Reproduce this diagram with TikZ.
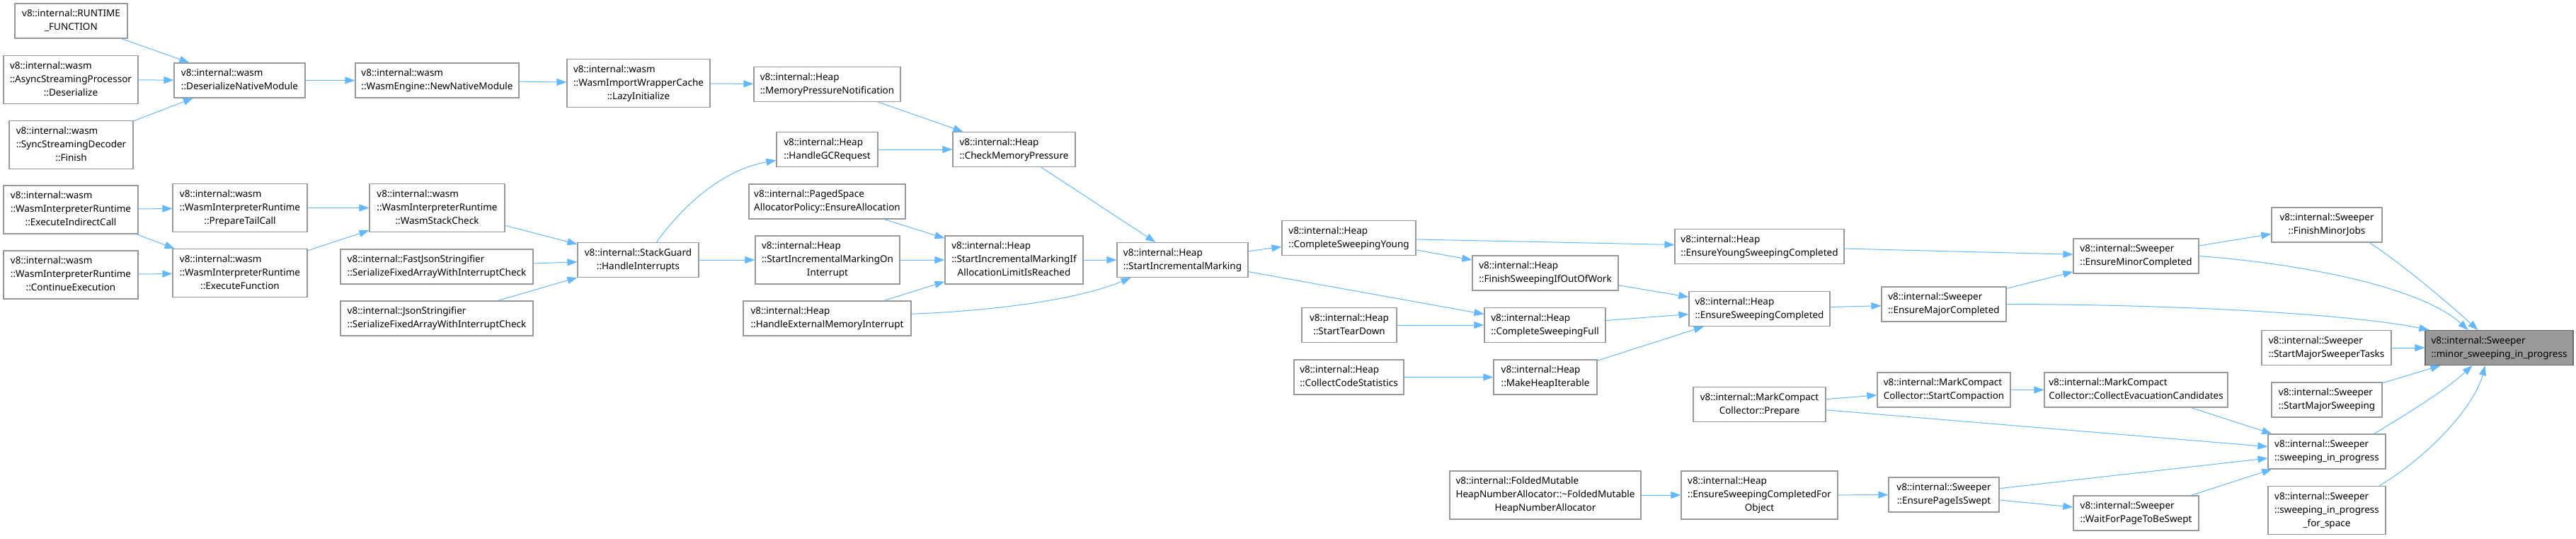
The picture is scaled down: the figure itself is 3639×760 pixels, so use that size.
\documentclass[tikz,border=0pt]{standalone}
\usepackage{fontspec}
\setmainfont{Noto Sans}
\usepackage{xcolor}
\definecolor{edgeBlue}{HTML}{63B8FF}
\definecolor{boxLine}{HTML}{999999}
\definecolor{focusFill}{HTML}{999999}
\definecolor{focusLine}{HTML}{666666}
\usetikzlibrary{arrows.meta}
\newcommand{\fnfont}{\fontsize{13.5}{19}\selectfont}
% all lines but the last flush left, the last one centred
\newcommand{\fnlabel}[2]{\begin{tabular}{@{}l@{}}#1\\\multicolumn{1}{@{}c@{}}{#2}\end{tabular}}
\tikzset{
	fnbox/.style={draw=boxLine, line width=1.2pt, fill=white, inner xsep=0pt,
		inner ysep=5.5pt, minimum width=#1, font=\fnfont},
	callarr/.style={draw=edgeBlue, line width=1pt, -{Triangle[length=14pt, width=10pt]}},
}

\begin{document}
\begin{tikzpicture}[x=1pt, y=-1pt]
	\useasboundingbox (0,0) rectangle (3639,760);

	% wasm side
	\node[fnbox=159] (rtFunc) at (100.5,29.5) {\fnlabel{v8::internal::RUNTIME}{\_FUNCTION}};
	\node[fnbox=190] (asyncDeser) at (100,112.5) {\fnlabel{v8::internal::wasm\\::AsyncStreamingProcessor}{::Deserialize}};
	\node[fnbox=175] (syncFinish) at (100.5,204.5) {\fnlabel{v8::internal::wasm\\::SyncStreamingDecoder}{::Finish}};
	\node[fnbox=185] (deserMod) at (338.5,113.5) {\fnlabel{v8::internal::wasm}{::DeserializeNativeModule}};
	\node[fnbox=231] (newMod) at (617.5,113.5) {\fnlabel{v8::internal::wasm}{::WasmEngine::NewNativeModule}};
	\node[fnbox=190] (execIndirect) at (100,296) {\fnlabel{v8::internal::wasm\\::WasmInterpreterRuntime}{::ExecuteIndirectCall}};
	\node[fnbox=190] (prepTail) at (339,293.5) {\fnlabel{v8::internal::wasm\\::WasmInterpreterRuntime}{::PrepareTailCall}};
	\node[fnbox=191] (stackCheck) at (617.5,293.5) {\fnlabel{v8::internal::wasm\\::WasmInterpreterRuntime}{::WasmStackCheck}};
	\node[fnbox=190] (contExec) at (100,388) {\fnlabel{v8::internal::wasm\\::WasmInterpreterRuntime}{::ContinueExecution}};
	\node[fnbox=190] (execFunc) at (339,385.5) {\fnlabel{v8::internal::wasm\\::WasmInterpreterRuntime}{::ExecuteFunction}};
	\node[fnbox=272] (fastJson) at (617,376.5) {\fnlabel{v8::internal::FastJsonStringifier}{::SerializeFixedArrayWithInterruptCheck}};
	\node[fnbox=272] (jsonStr) at (617,449.5) {\fnlabel{v8::internal::JsonStringifier}{::SerializeFixedArrayWithInterruptCheck}};
	\node[fnbox=202] (lazyInit) at (902,117.5) {\fnlabel{v8::internal::wasm\\::WasmImportWrapperCache}{::LazyInitialize}};

	% heap side
	\node[fnbox=207] (memNotify) at (1168.5,119) {\fnlabel{v8::internal::Heap}{::MemoryPressureNotification}};
	\node[fnbox=143] (gcRequest) at (1168.5,211) {\fnlabel{v8::internal::Heap}{::HandleGCRequest}};
	\node[fnbox=221] (pagedAlloc) at (1168.5,284.5) {\fnlabel{v8::internal::PagedSpace}{AllocatorPolicy::EnsureAllocation}};
	\node[fnbox=171] (handleInt) at (901.5,367) {\fnlabel{v8::internal::StackGuard}{::HandleInterrupts}};
	\node[fnbox=204] (incOnInt) at (1169,367) {\fnlabel{v8::internal::Heap\\::StartIncrementalMarkingOn}{Interrupt}};
	\node[fnbox=237] (extMemInt) at (1168.5,449.5) {\fnlabel{v8::internal::Heap}{::HandleExternalMemoryInterrupt}};
	\node[fnbox=173] (checkMem) at (1432.5,211) {\fnlabel{v8::internal::Heap}{::CheckMemoryPressure}};
	\node[fnbox=195] (incIfLimit) at (1432.5,367) {\fnlabel{v8::internal::Heap\\::StartIncrementalMarkingIf}{AllocationLimitIsReached}};
	\node[fnbox=185] (startInc) at (1670.5,367) {\fnlabel{v8::internal::Heap}{::StartIncrementalMarking}};
	\node[fnbox=189] (sweepYoung) at (1905.5,336) {\fnlabel{v8::internal::Heap}{::CompleteSweepingYoung}};
	\node[fnbox=206] (finishOOW) at (2183,385.5) {\fnlabel{v8::internal::Heap}{::FinishSweepingIfOutOfWork}};
	\node[fnbox=239] (ensYoung) at (2485.5,348) {\fnlabel{v8::internal::Heap}{::EnsureYoungSweepingCompleted}};
	\node[fnbox=134] (tearDown) at (1906,459) {\fnlabel{v8::internal::Heap}{::StartTearDown}};
	\node[fnbox=171] (sweepFull) at (2182.5,459) {\fnlabel{v8::internal::Heap}{::CompleteSweepingFull}};
	\node[fnbox=155] (codeStats) at (1905.5,532.5) {\fnlabel{v8::internal::Heap}{::CollectCodeStatistics}};
	\node[fnbox=146] (heapIter) at (2183,532.5) {\fnlabel{v8::internal::Heap}{::MakeHeapIterable}};
	\node[fnbox=270] (foldedAlloc) at (2183,699) {\fnlabel{v8::internal::FoldedMutable\\HeapNumberAllocator::\textasciitilde FoldedMutable}{HeapNumberAllocator}};
	\node[fnbox=199] (ensSweep) at (2485.5,436) {\fnlabel{v8::internal::Heap}{::EnsureSweepingCompleted}};
	\node[fnbox=221] (ensForObj) at (2485.5,699) {\fnlabel{v8::internal::Heap\\::EnsureSweepingCompletedFor}{Object}};
	\node[fnbox=187] (mcPrepare) at (2485.5,571) {\fnlabel{v8::internal::MarkCompact}{Collector::Prepare}};

	% sweeper side
	\node[fnbox=176] (ensMajor) at (2746,429.5) {\fnlabel{v8::internal::Sweeper}{::EnsureMajorCompleted}};
	\node[fnbox=188] (startCompact) at (2746,550.5) {\fnlabel{v8::internal::MarkCompact}{Collector::StartCompaction}};
	\node[fnbox=259] (evacCand) at (3017.5,550.5) {\fnlabel{v8::internal::MarkCompact}{Collector::CollectEvacuationCandidates}};
	\node[fnbox=156] (pageSwept) at (2746,698.5) {\fnlabel{v8::internal::Sweeper}{::EnsurePageIsSwept}};
	\node[fnbox=177] (waitPage) at (3017.5,724.5) {\fnlabel{v8::internal::Sweeper}{::WaitForPageToBeSwept}};
	\node[fnbox=177] (ensMinor) at (3017.5,361.5) {\fnlabel{v8::internal::Sweeper}{::EnsureMinorCompleted}};
	\node[fnbox=156] (minorJobs) at (3287,317.5) {\fnlabel{v8::internal::Sweeper}{::FinishMinorJobs}};
	\node[fnbox=183] (majorTasks) at (3286.5,491) {\fnlabel{v8::internal::Sweeper}{::StartMajorSweeperTasks}};
	\node[fnbox=156] (majorSweep) at (3287,564.5) {\fnlabel{v8::internal::Sweeper}{::StartMajorSweeping}};
	\node[fnbox=166] (sweepProg) at (3287,637.5) {\fnlabel{v8::internal::Sweeper}{::sweeping\_in\_progress}};
	\node[fnbox=166] (sweepSpace) at (3287,720.5) {\fnlabel{v8::internal::Sweeper\\::sweeping\_in\_progress}{\_for\_space}};
	\node[fnbox=209, fill=focusFill, draw=focusLine] (minorSweep) at (3530.5,491) {\fnlabel{v8::internal::Sweeper}{::minor\_sweeping\_in\_progress}};

	% straight calls, caller/callee
	\foreach \a/\b in {rtFunc/deserMod, asyncDeser/deserMod, syncFinish/deserMod,
		deserMod/newMod, newMod/lazyInit, lazyInit/memNotify, memNotify/checkMem,
		gcRequest/checkMem, checkMem/startInc, execIndirect/prepTail,
		execIndirect/execFunc, contExec/execFunc, prepTail/stackCheck,
		execFunc/stackCheck, stackCheck/handleInt, fastJson/handleInt,
		jsonStr/handleInt, handleInt/incOnInt, pagedAlloc/incIfLimit,
		incOnInt/incIfLimit, extMemInt/incIfLimit, incIfLimit/startInc,
		startInc/sweepYoung, startInc/sweepFull, sweepYoung/ensYoung,
		sweepYoung/finishOOW, finishOOW/ensSweep, tearDown/sweepFull,
		sweepFull/ensSweep, codeStats/heapIter, heapIter/ensSweep,
		foldedAlloc/ensForObj, ensYoung/ensMinor, ensSweep/ensMajor,
		ensMajor/ensMinor, ensMinor/minorJobs, majorTasks/minorSweep,
		majorSweep/minorSweep, mcPrepare/startCompact, startCompact/evacCand,
		evacCand/sweepProg, mcPrepare/sweepProg, ensForObj/pageSwept,
		pageSwept/sweepProg, pageSwept/waitPage, waitPage/sweepProg}
	{
		\draw[callarr] (\a) -- (\b);
	}

	% the bent ones
	\draw[callarr] ([xshift=26pt]handleInt.north) .. controls (965,290) and (1020,240) .. (gcRequest.192);
	\draw[callarr] (extMemInt.3) .. controls (1400,439) and (1520,424) .. (startInc.199);
	\draw[callarr] (ensMajor.east) .. controls (3100,430) and (3330,445) .. ([xshift=6pt]minorSweep.north west);
	\draw[callarr] (ensMinor.east) .. controls (3250,372) and (3420,405) .. ([xshift=-44pt]minorSweep.north);
	\draw[callarr] ([xshift=60pt]minorJobs.south) .. controls (3390,370) and (3455,425) .. ([xshift=-30pt]minorSweep.north);
	\draw[callarr] ([xshift=67pt]sweepProg.north) .. controls (3390,590) and (3450,555) .. ([xshift=-38pt]minorSweep.south);
	\draw[callarr] ([xshift=74pt]sweepSpace.north) .. controls (3430,645) and (3495,575) .. ([xshift=-20pt]minorSweep.south);
\end{tikzpicture}
\end{document}
